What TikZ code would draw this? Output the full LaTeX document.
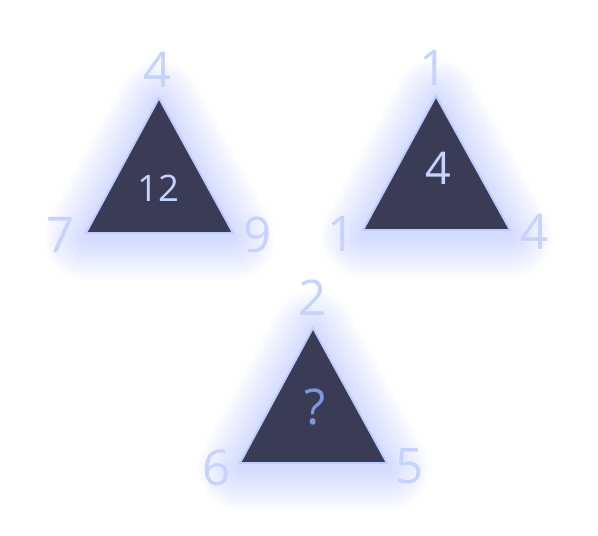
\documentclass[tikz,border=0pt]{standalone}
\usepackage{fontspec}
\setmainfont{Open Sans}
\usetikzlibrary{positioning}
\definecolor{trifill}{RGB}{58,60,85}
\definecolor{triedge}{RGB}{190,206,255}
\definecolor{glowblue}{RGB}{125,150,255}
\definecolor{labelblue}{RGB}{197,211,255}
\definecolor{askblue}{RGB}{125,150,225}
\tikzset{
  glow/.style={draw=glowblue, line join=round, opacity=0.02},
  puzzletri/.style={fill=trifill, draw=triedge, line width=1.4pt, line join=miter},
  cornerlabel/.style={font=\fontsize{35}{35}\selectfont, text=labelblue, inner sep=0pt},
}
\begin{document}
\begin{tikzpicture}[x=0.025cm, y=-0.025cm]
  \useasboundingbox (0,0) rectangle (598,536);
  % glow behind each triangle
  \foreach \dx/\dy in {159/98, 436/96, 313/328} {
    \foreach \w in {3,6,...,60}
      \draw[glow, line width=\w pt] (\dx,\dy+5) -- ++(-73,135) -- ++(147,0) -- cycle;
  }
  % triangles
  \draw[puzzletri] (159,98) -- (86,233) -- (233,233) -- cycle;
  \draw[puzzletri] (436,96) -- (363,230) -- (510,230) -- cycle;
  \draw[puzzletri] (313,328) -- (240,463) -- (387,463) -- cycle;
  % first triangle
  \node[cornerlabel] (topA) at (158,70) {4};
  \node[cornerlabel] (leftA) at (61,235) {7};
  \node[cornerlabel] (rightA) at (258,235) {9};
  \node[font=\fontsize{26}{26}\selectfont, text=labelblue] (midA) at (158,188) {12};
  % second triangle
  \node[cornerlabel] (topB) at (434,68) {1};
  \node[cornerlabel] (leftB) at (342,234) {1};
  \node[cornerlabel] (rightB) at (535,232) {4};
  \node[font=\fontsize{32}{32}\selectfont, text=labelblue] (midB) at (438,168) {4};
  % third triangle
  \node[cornerlabel] (topC) at (313,298) {2};
  \node[cornerlabel] (leftC) at (217,468) {6};
  \node[cornerlabel] (rightC) at (410,466) {5};
  \node[font=\fontsize{35}{35}\selectfont, text=askblue] (midC) at (315,407) {?};
\end{tikzpicture}
\end{document}
